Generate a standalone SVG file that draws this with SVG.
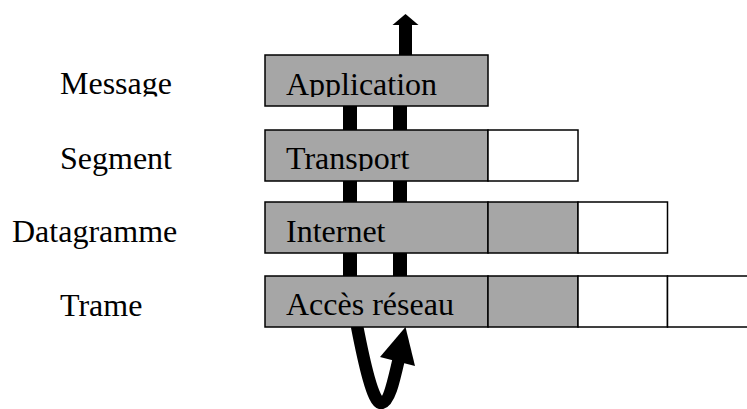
<svg xmlns="http://www.w3.org/2000/svg" width="747" height="409" viewBox="0 0 747 409">
  <style>
    .lbl { font-family: "Liberation Serif", "Times New Roman", serif; font-size: 32px; fill: #000; }
    .hdr { fill: #a6a6a6; stroke: #000; stroke-width: 1.5; }
    .pay { fill: #fff; stroke: #000; stroke-width: 1.5; }
    .bar { fill: #000; }
  </style>
  <defs>
    <clipPath id="clipMessage"><rect x="0" y="50" width="260" height="46.5"/></clipPath>
    <clipPath id="clipApp"><rect x="266" y="50" width="220" height="47"/></clipPath>
    <clipPath id="clipTransport"><rect x="266" y="130" width="220" height="41"/></clipPath>
  </defs>
  <rect width="747" height="409" fill="#fff"/>

  <!-- data flow: vertical bars, up arrow, bottom loop -->
  <g id="connectors">
    <rect class="bar" x="343" y="104" width="14" height="174"/>
    <rect class="bar" x="393" y="104" width="14" height="174"/>
    <rect class="bar" x="399" y="24" width="13" height="32"/>
    <polygon class="bar" points="392.5,25 418.5,25 405.5,14"/>
    <path d="M357,326 C364,362 373,403 381,403 C389,403 394,380 399,358" fill="none" stroke="#000" stroke-width="12.5"/>
    <polygon class="bar" points="405.5,327 380,357 415,366"/>
  </g>

  <!-- layer rows -->
  <g id="application">
    <rect class="hdr" x="265" y="55" width="223" height="51"/>
    <text class="lbl" x="286" y="95" clip-path="url(#clipApp)">Application</text>
  </g>
  <g id="transport">
    <rect class="hdr" x="265" y="130" width="223" height="51"/>
    <rect class="pay" x="488" y="130" width="90" height="51"/>
    <text class="lbl" x="286" y="169" clip-path="url(#clipTransport)">Transport</text>
  </g>
  <g id="internet">
    <rect class="hdr" x="265" y="202" width="223" height="51"/>
    <rect class="hdr" x="488" y="202" width="90" height="51"/>
    <rect class="pay" x="578" y="202" width="89.5" height="51"/>
    <text class="lbl" x="286" y="241.5">Internet</text>
  </g>
  <g id="acces-reseau">
    <rect class="hdr" x="265" y="276" width="223" height="51"/>
    <rect class="hdr" x="488" y="276" width="90" height="51"/>
    <rect class="pay" x="578" y="276" width="89.5" height="51"/>
    <rect class="pay" x="667.5" y="276" width="95" height="51"/>
    <text class="lbl" x="286" y="315">Accès réseau</text>
  </g>

  <!-- data unit names -->
  <g id="unit-message"><text class="lbl" x="60" y="94" clip-path="url(#clipMessage)">Message</text></g>
  <g id="unit-segment"><text class="lbl" x="60" y="169">Segment</text></g>
  <g id="unit-datagramme"><text class="lbl" x="12" y="242">Datagramme</text></g>
  <g id="unit-trame"><text class="lbl" x="60" y="315.5">Trame</text></g>
</svg>
